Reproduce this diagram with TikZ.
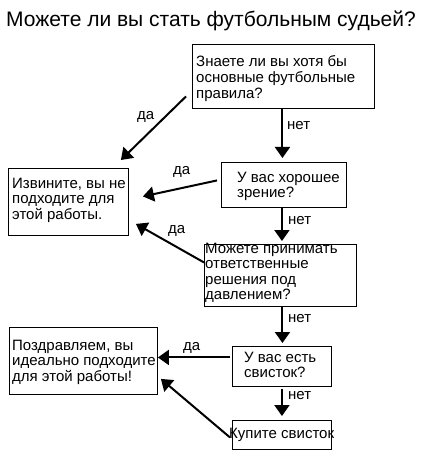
\documentclass[tikz,border=0pt]{standalone}
\usepackage{fontspec}
\setmainfont{Liberation Sans}
\usetikzlibrary{calc,arrows.meta}
\newcommand{\ttl}[1]{\begin{tabular}[t]{@{}l@{}}#1\end{tabular}}
\begin{document}
\begin{tikzpicture}[x=1pt,y=-1pt,
  box/.style={draw=black,line width=0.9pt,anchor=north west,inner sep=0pt},
  txt/.style={anchor=base west,inner sep=0pt,font=\fontsize{15}{15.6}\selectfont},
  lab/.style={anchor=base west,inner sep=0pt,font=\fontsize{15}{16}\selectfont},
  arr/.style={line width=2pt,-{Triangle[length=11pt,width=15pt]}}]
\useasboundingbox[fill=white] (0,0) rectangle (422,457);
\node[anchor=base,inner sep=0pt,font=\fontsize{21}{24}\selectfont] (title) at (211,27) {Можете ли вы стать футбольным судьей?};
% boxes
\node[box,minimum width=182,minimum height=64] (b1) at (192,44) {};
\node[box,minimum width=125,minimum height=45] (b2) at (221,162) {};
\node[box,minimum width=152,minimum height=62] (b3) at (204,244) {};
\node[box,minimum width=120,minimum height=67] (izv) at (8,168) {};
\node[box,minimum width=148,minimum height=67] (poz) at (9,327) {};
\node[box,minimum width=99,minimum height=40] (b4) at (232,346) {};
\node[box,minimum width=99,minimum height=29] (b5) at (232,420) {};
% texts
\node[txt] (t1) at (196,67) {\ttl{Знаете ли вы хотя бы\\основные футбольные\\правила?}};
\node[txt] (t2) at (237,182) {\ttl{У вас хорошее\\зрение?}};
\node[txt] (t3) at (205,253) {\ttl{Можете принимать\\ответственные\\решения под\\давлением?}};
\node[txt] (tizv) at (12,188) {\ttl{Извините, вы не\\подходите для\\этой работы.}};
\node[txt] (tpoz) at (12,350) {\ttl{Поздравляем, вы\\идеально подходите\\для этой работы!}};
\node[txt] (t4) at (244,362) {\ttl{У вас есть\\свисток?}};
\node[txt] (t5) at (229,438) {Купите свисток};
% arrows
\draw[arr] ($(b1.west)+(-6,20)$) -- ($(izv.north east)+(-8,-8)$);
\draw[arr] ($(b2.west)+(-4,-4.5)$) -- ($(izv.east)+(14,-5.5)$);
\draw[arr] ($(b3.west)+(0,-13)$) -- ($(izv.south east)+(7,-12)$);
\draw[arr] ($(b1.south)+(-1,0)$) -- ($(b1.south|-b2.north)+(-1,-4)$);
\draw[arr] ($(b2.south)+(-2,0)$) -- ($(b2.south|-b3.north)+(-2,-3)$);
\draw[arr] ($(b3.south)+(2,0)$) -- ($(b3.south|-b4.north)+(2,-3)$);
\draw[arr] ($(b4.south)+(0,2)$) -- ($(b4.south|-b5.north)+(0,-4)$);
\draw[arr] ($(b4.west)+(-2,-9)$) coordinate (s8) -- (poz.east|-s8);
\draw[arr] ($(b5.west)+(-2,2.5)$) -- ($(poz.south east)+(3,-16)$);
% labels
\node[lab] (l1) at (137,120) {да};
\node[lab] (l2) at (173,175) {да};
\node[lab] (l3) at (168,233) {да};
\node[lab] (l4) at (183,350) {да};
\node[lab] (n1) at (287,130) {нет};
\node[lab] (n2) at (288,224) {нет};
\node[lab] (n3) at (288,322) {нет};
\node[lab] (n4) at (288,399) {нет};
\end{tikzpicture}
\end{document}
